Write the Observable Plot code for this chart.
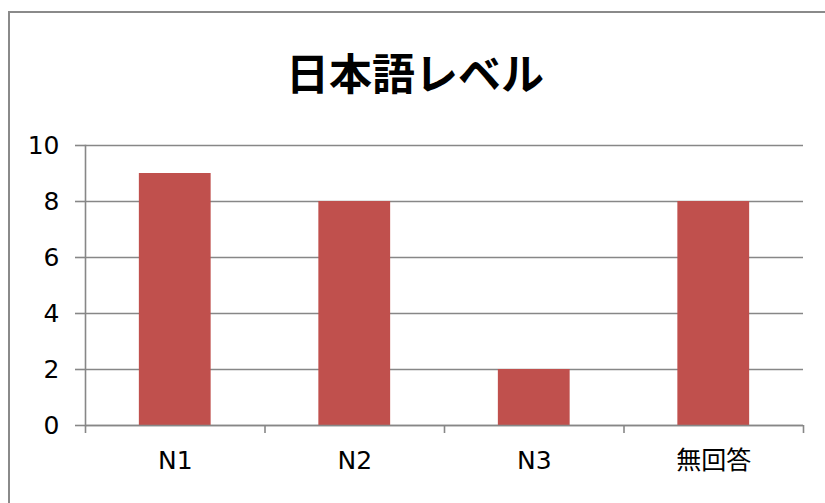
<!DOCTYPE html>
<html>
<head>
<meta charset="utf-8">
<script src="https://cdn.jsdelivr.net/npm/d3@7"></script>
<script src="https://cdn.jsdelivr.net/npm/@observablehq/plot@0.6"></script>
<style>
  html, body { margin: 0; padding: 0; background: #fff; }
  #wrap { position: relative; width: 825px; height: 503px; overflow: hidden; background: #fff; }
  #border { position: absolute; left: 8px; top: 11px; width: 900px; height: 600px; border: 2px solid #8a8a8a; box-sizing: border-box; }
  #title { position: relative; width: 830px; height: 100px; text-align: center; font-family: "Noto Sans CJK JP", sans-serif; font-weight: bold; font-size: 43px; line-height: 43px; padding-top: 50px; box-sizing: border-box; color: #000; }
  #chart { position: relative; }
</style>
</head>
<body>
<div id="wrap">
  <div id="border"></div>
  <div id="title">日本語レベル</div>
  <div id="chart"></div>
</div>
<script>
const categories = ["N1", "N2", "N3", "無回答"];
const counts = [9, 8, 2, 8];
const yTicks = [0, 2, 4, 6, 8, 10];

const data = categories.map((c, i) => ({ category: c, index: i, count: counts[i] }));
const boundaries = d3.range(categories.length + 1);
const centers = categories.map((c, i) => i + 0.5);

const font = '"DejaVu Sans", "Noto Sans CJK JP", sans-serif';

const chart = Plot.plot({
  width: 825,
  height: 403,
  marginLeft: 85,
  marginRight: 22,
  marginTop: 45,
  marginBottom: 78,
  style: { fontFamily: font, fontSize: "25px", color: "#000", background: "transparent", overflow: "visible" },
  x: { type: "linear", domain: [0, categories.length] },
  y: { domain: [0, 10] },
  marks: [
    Plot.ruleY(yTicks, { stroke: "#878787", strokeWidth: 1.6 }),
    Plot.rectY(data, { x1: d => d.index + 0.3, x2: d => d.index + 0.7, y1: 0, y2: "count", fill: "#C0504D" }),
    Plot.ruleY([0], { stroke: "#878787", strokeWidth: 1.6 }),
    Plot.frame({ anchor: "left", stroke: "#878787", strokeWidth: 1.6 }),
    Plot.axisY({ ticks: yTicks, tickSize: 10, tickPadding: 16, stroke: "#878787", strokeWidth: 1.6, label: null, fontSize: "25px" }),
    Plot.axisX({ ticks: boundaries, tickSize: 8, tickFormat: () => "", stroke: "#878787", strokeWidth: 1.6, label: null }),
    Plot.axisX({ ticks: centers, tickSize: 0, tickPadding: 26, tickFormat: v => categories[Math.floor(v)], label: null, fontSize: "25px" })
  ]
});
document.getElementById("chart").appendChild(chart);
</script>
</body>
</html>
